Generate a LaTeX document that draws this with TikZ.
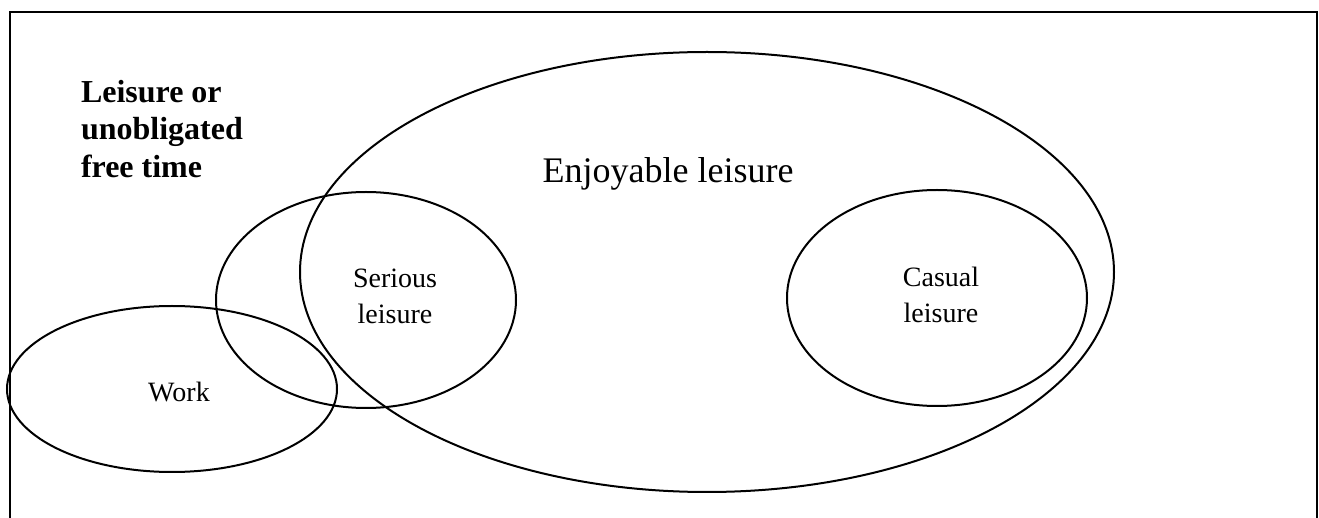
\documentclass[tikz,border=0pt]{standalone}
\usepackage{fontspec}
\setmainfont{Liberation Serif}
\usetikzlibrary{positioning}

\begin{document}
\begin{tikzpicture} [x=0.5pt,y=-0.5pt,every node/.style={inner sep=0pt},line width=1pt]
\def\xmin{0}
\def\ymin{0}
\def\xmax{1319}
\def\ymax{518}

\useasboundingbox (\xmin,\ymin) rectangle (\xmax,\ymax);

% frame, its bottom edge lies below the page
\draw[line width=0.8pt] (10,540) -- (10,12) -- (1317,12) -- (1317,540);

% the sets
\foreach \cx/\cy/\rx/\ry in {707/272/407/220,366/300/150/108,172/389/165/83,937/298/150/108}
	\draw (\cx,\cy) ellipse ({\rx} and {\ry});

\node[anchor=north west,align=left,font=\bfseries\fontsize{16}{18.75}\selectfont] (free) at (80,79) {Leisure or\\unobligated\\free time};
\node[anchor=base,font=\fontsize{18}{21}\selectfont] (enjoy) at (668,183) {Enjoyable leisure};
\node[align=center,font=\fontsize{14}{18}\selectfont] (serious) at (395,296) {Serious\\leisure};
\node[align=center,font=\fontsize{14}{18}\selectfont] (casual) at (941,295) {Casual\\leisure};
\node[anchor=base,font=\fontsize{14}{18}\selectfont] (work) at (179,402) {Work};

\end{tikzpicture}
\end{document}
